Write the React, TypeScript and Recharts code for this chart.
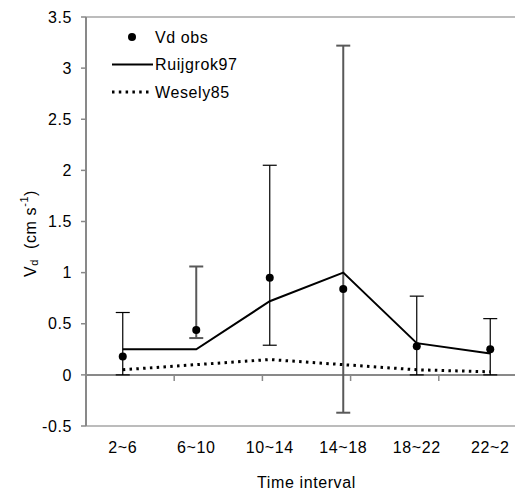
import React from 'react';
import {
  ComposedChart, Line, XAxis, YAxis, ErrorBar, ReferenceLine, Legend,
} from 'recharts';

const categories = ['2~6', '6~10', '10~14', '14~18', '18~22', '22~2'];
const vdObs = [0.18, 0.44, 0.95, 0.84, 0.28, 0.25];
const vdObsLow = [0, 0.36, 0.29, -0.37, 0, 0];
const vdObsHigh = [0.61, 1.06, 2.05, 3.22, 0.77, 0.55];
const ruijgrok97 = [0.25, 0.25, 0.72, 1.0, 0.31, 0.21];
const wesely85 = [0.05, 0.1, 0.15, 0.1, 0.05, 0.03];
const yTicks = [-0.5, 0, 0.5, 1, 1.5, 2, 2.5, 3, 3.5];
// boundaries between time intervals (tick marks on the zero line)
const bandEdges = [1, 2, 3, 4, 5];
const legendOrder = ['obs', 'ruijgrok', 'wesely'];

// error bars drawn heavier / grey in the original
const greyErrIdx = [1, 3];

const FONT = '"Liberation Sans", Arial, sans-serif';
const FS = 16;
const LS = 0.6;
const AXIS_GREY = '#898989';

const data = categories.map((c, i) => {
  const err: [number, number] = [vdObs[i] - vdObsLow[i], vdObsHigh[i] - vdObs[i]];
  const grey = greyErrIdx.includes(i);
  return {
    interval: c,
    obs: vdObs[i],
    errBlack: grey ? undefined : err,
    errGrey: grey ? err : undefined,
    ruijgrok: ruijgrok97[i],
    wesely: wesely85[i],
  };
});

const LegendBox = ({ payload }: any) => {
  const items = [...((payload || []) as any[])].sort(
    (a, b) => legendOrder.indexOf(a.dataKey) - legendOrder.indexOf(b.dataKey));
  return (
    <svg width={150} height={80} style={{ display: 'block' }}>
      {items.map((it, i) => {
        const y = 9 + i * 27.5;
        let icon = null;
        if (it.dataKey === 'obs') icon = <circle cx={40} cy={y} r={4} fill="#000" />;
        else if (it.dataKey === 'ruijgrok') icon = <line x1={20} x2={61} y1={y} y2={y} stroke="#000" strokeWidth={2} />;
        else icon = <line x1={20} x2={60} y1={y} y2={y} stroke="#000" strokeWidth={3} strokeDasharray="2.5 4.3" />;
        return (
          <g key={it.value}>
            {icon}
            <text x={63} y={y} dy="0.35em" fontFamily={FONT} fontSize={FS} letterSpacing={LS} fill="#000">{it.value}</text>
          </g>
        );
      })}
    </svg>
  );
};

const YLabel = (props: any) => {
  const vb = props.viewBox || {};
  const x = 22;
  const y = (vb.y || 0) + (vb.height || 0) / 2 + 12;
  return (
    <text transform={`rotate(-90, ${x}, ${y})`} x={x} y={y} textAnchor="middle" dominantBaseline="central"
      fontFamily={FONT} fontSize={FS} letterSpacing={LS} fill="#000">
      V<tspan dy={4} fontSize={11}>d</tspan>
      <tspan dy={-4} xmlSpace="preserve">{'  (cm s'}</tspan>
      <tspan dy={-6} fontSize={11}>-1</tspan>
      <tspan dy={6}>)</tspan>
    </text>
  );
};

const tickStyle = { fill: '#000', fontSize: FS, fontFamily: FONT, letterSpacing: LS };

export default function App() {
  return (
    <div style={{ width: 515, height: 485, overflow: 'hidden' }}>
      <ComposedChart width={540} height={485} data={data}
        margin={{ top: 9, right: 21, left: 0, bottom: 3 }}>
        <XAxis dataKey="interval" scale="band" height={64}
          axisLine={{ stroke: '#a6a6a6', strokeWidth: 1.5 }} tickLine={false} tickSize={6} tickMargin={10}
          tick={tickStyle}
          label={{ value: 'Time interval', position: 'insideBottom', offset: 2, ...tickStyle }} />
        <XAxis xAxisId="edges" type="number" domain={[0, 6]} hide />
        <YAxis type="number" domain={[-0.5, 3.5]} ticks={yTicks} width={78}
          axisLine={{ stroke: AXIS_GREY, strokeWidth: 2 }} tickLine={{ stroke: AXIS_GREY, strokeWidth: 1.5 }}
          tickSize={5} tickMargin={9}
          tick={tickStyle}
          label={<YLabel />} />
        <ReferenceLine y={3.5} stroke="#a6a6a6" strokeWidth={1.5} />
        <ReferenceLine y={0} stroke={AXIS_GREY} strokeWidth={2} />
        {bandEdges.map(e => (
          <ReferenceLine key={e} xAxisId="edges" segment={[{ x: e, y: 0 }, { x: e, y: -0.06 }]}
            stroke={AXIS_GREY} strokeWidth={1.5} />
        ))}
        <Legend layout="vertical" align="center" verticalAlign="middle" content={<LegendBox />}
          wrapperStyle={{ left: 84, top: 20, width: 150, height: 80 }} />
        <Line dataKey="obs" name="Vd obs" stroke="none" isAnimationActive={false} legendType="circle"
          dot={{ r: 4, fill: '#000', stroke: 'none' }} activeDot={false}>
          <ErrorBar dataKey="errBlack" width={7} stroke="#000" strokeWidth={1.2} direction="y" />
          <ErrorBar dataKey="errGrey" width={7} stroke="#595959" strokeWidth={2} direction="y" />
        </Line>
        <Line dataKey="ruijgrok" name="Ruijgrok97" stroke="#000" strokeWidth={2} dot={false}
          isAnimationActive={false} activeDot={false} />
        <Line dataKey="wesely" name="Wesely85" stroke="#000" strokeWidth={3} strokeDasharray="2.5 4.3"
          dot={false} isAnimationActive={false} activeDot={false} />
      </ComposedChart>
    </div>
  );
}
